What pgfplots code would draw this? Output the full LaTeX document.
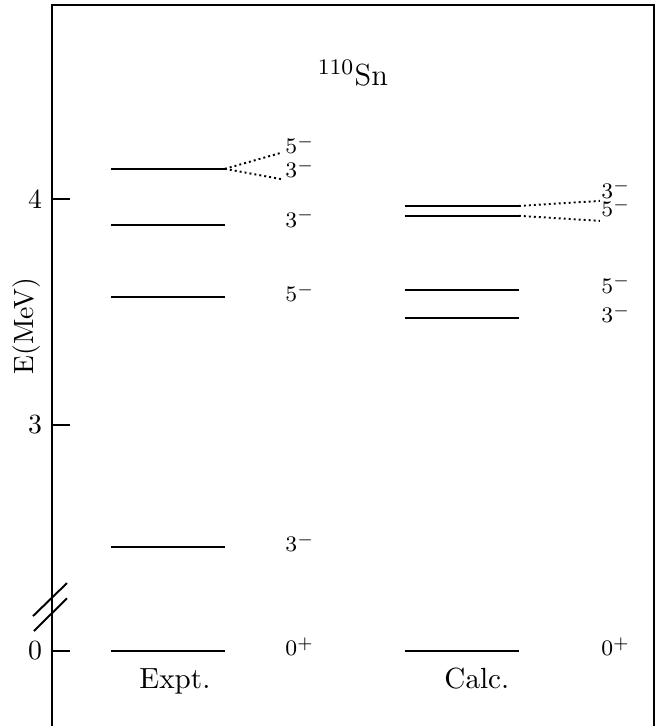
\documentclass[border=0pt]{standalone}
\usepackage{pgfplots}
\pgfplotsset{compat=1.18}
\usetikzlibrary{calc}
\tikzset{
  level/.style={line width=0.7pt, black},
  link/.style={line width=0.7pt, black, dash pattern=on 0.7pt off 1.1pt},
  jp/.style={anchor=base west, inner sep=0pt, font=\fontsize{8.5}{10}\selectfont},
}
\begin{document}
\begin{tikzpicture}
\begin{axis}[
  name=ax,
  scale only axis,
  width=216.7pt, height=259.6pt,
  xmin=0, xmax=602, ymin=1.668, ymax=4.858,
  xtick=\empty,
  ytick={2,3,4}, yticklabels={0,3,4},
  ytick pos=left, tick align=inside,
  major tick length=6.5pt,
  tick style={line width=0.7pt, black},
  axis line style={draw=none},
  clip=false,
  ylabel={E(MeV)},
  every axis y label/.style={at={(axis description cs:-0.0415,0.555)}, rotate=90, anchor=center},
]
% frame without the bottom edge (cropped in the original)
\draw[line width=0.9pt, line join=miter] (rel axis cs:0,0) -- (rel axis cs:0,1) -- (rel axis cs:1,1) -- (rel axis cs:1,0);
% axis break
\draw[line width=0.7pt] (axis cs:-19,2.154) -- (axis cs:15,2.300);
\draw[line width=0.7pt] (axis cs:-18,2.088) -- (axis cs:15,2.233);

% Expt. levels
\addplot[level] coordinates {(59,4.133) (173,4.133)};
\addplot[level] coordinates {(59,3.885) (173,3.885)};
\addplot[level] coordinates {(59,3.566) (173,3.566)};
\addplot[level] coordinates {(59,2.460) (173,2.460)};
\addplot[level] coordinates {(59,2.000) (173,2.000)};
\addplot[link] coordinates {(173,4.133) (230,4.205)};
\addplot[link] coordinates {(173,4.133) (230,4.087)};

% Calc. levels
\addplot[level] coordinates {(353,3.969) (467,3.969)};
\addplot[level] coordinates {(353,3.925) (467,3.925)};
\addplot[level] coordinates {(353,3.597) (467,3.597)};
\addplot[level] coordinates {(353,3.473) (467,3.473)};
\addplot[level] coordinates {(353,2.000) (467,2.000)};
\addplot[link] coordinates {(467,3.969) (548,3.991)};
\addplot[link] coordinates {(467,3.925) (548,3.903)};

% spin-parity labels
\node[jp] at (axis cs:233,4.199) {$5^{-}$};
\node[jp] at (axis cs:233,4.093) {$3^{-}$};
\node[jp] at (axis cs:233,3.872) {$3^{-}$};
\node[jp] at (axis cs:233,3.544) {$5^{-}$};
\node[jp] at (axis cs:233,2.438) {$3^{-}$};
\node[jp] at (axis cs:233,1.978) {$0^{+}$};
\node[jp] at (axis cs:549,4.004) {$3^{-}$};
\node[jp] at (axis cs:549,3.920) {$5^{-}$};
\node[jp] at (axis cs:549,3.580) {$5^{-}$};
\node[jp] at (axis cs:549,3.451) {$3^{-}$};
\node[jp] at (axis cs:549,1.978) {$0^{+}$};

\node[anchor=base, font=\fontsize{10.5}{12}\selectfont] at (axis cs:123,1.836) {Expt.};
\node[anchor=base, font=\fontsize{10.5}{12}\selectfont] at (axis cs:425,1.836) {Calc.};
\node[anchor=base, font=\fontsize{11}{13}\selectfont] at (axis cs:301,4.50) {$^{110}$Sn};
\end{axis}
\pgfresetboundingbox
\path ($(ax.south west)+(-18.7pt,0pt)$) rectangle ($(ax.north east)+(1.1pt,1.8pt)$);
\end{tikzpicture}
\end{document}
